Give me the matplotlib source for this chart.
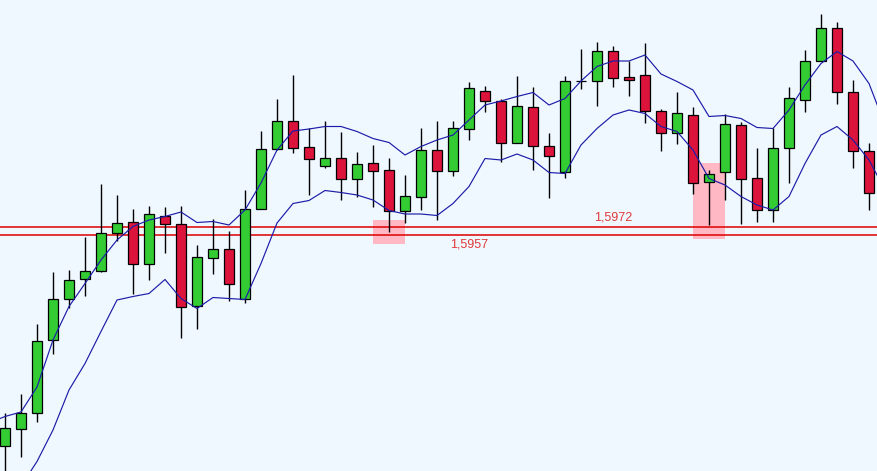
import matplotlib
matplotlib.use("Agg")
import matplotlib.pyplot as plt
from matplotlib.patches import Rectangle
import numpy as np

# ---- data (prices) ----
opens = [1.5535, 1.5570, 1.5600, 1.5746, 1.5828, 1.5870, 1.5884, 1.5960, 1.5982, 1.5898,
         1.5994, 1.5978, 1.5816, 1.5912, 1.5928, 1.5830, 1.6010, 1.6130, 1.6185, 1.6132,
         1.6096, 1.6110, 1.6068, 1.6100, 1.6086, 1.6004, 1.6034, 1.6126, 1.6084, 1.6170,
         1.6244, 1.6224, 1.6140, 1.6212, 1.6136, 1.6082, 1.6264, 1.6264, 1.6324, 1.6272,
         1.6276, 1.6204, 1.6160, 1.6198, 1.6062, 1.6082, 1.6178, 1.6070, 1.6006, 1.6132,
         1.6226, 1.6304, 1.6370, 1.6242, 1.6124]
highs = [1.5600, 1.5638, 1.5779, 1.5883, 1.5887, 1.5952, 1.6059, 1.6037, 1.6008, 1.6015,
         1.6012, 1.6015, 1.5936, 1.5988, 1.5965, 1.6047, 1.6164, 1.6229, 1.6277, 1.6170,
         1.6185, 1.6163, 1.6123, 1.6137, 1.6110, 1.6077, 1.6170, 1.6185, 1.6185, 1.6263,
         1.6255, 1.6228, 1.6274, 1.6253, 1.6161, 1.6275, 1.6329, 1.6342, 1.6334, 1.6305,
         1.6340, 1.6208, 1.6242, 1.6212, 1.6086, 1.6198, 1.6182, 1.6130, 1.6170, 1.6252,
         1.6326, 1.6400, 1.6382, 1.6266, 1.6140]
lows = [1.5477, 1.5512, 1.5582, 1.5718, 1.5810, 1.5834, 1.5882, 1.5944, 1.5838, 1.5866,
        1.5920, 1.5750, 1.5768, 1.5878, 1.5824, 1.5820, 1.6010, 1.6126, 1.6120, 1.6036,
        1.6090, 1.6026, 1.6032, 1.6012, 1.5962, 1.5980, 1.6006, 1.5986, 1.6074, 1.6146,
        1.6202, 1.6103, 1.6140, 1.6087, 1.6030, 1.6070, 1.6249, 1.6214, 1.6253, 1.6234,
        1.6180, 1.6124, 1.6138, 1.6038, 1.5976, 1.6026, 1.5978, 1.5982, 1.5982, 1.6060,
        1.6202, 1.6304, 1.6218, 1.6090, 1.6006]
closes = [1.5570, 1.5600, 1.5744, 1.5828, 1.5866, 1.5884, 1.5960, 1.5980, 1.5898, 1.5998,
          1.5978, 1.5814, 1.5912, 1.5928, 1.5858, 1.6010, 1.6130, 1.6185, 1.6132, 1.6108,
          1.6110, 1.6068, 1.6098, 1.6084, 1.6004, 1.6034, 1.6126, 1.6084, 1.6170, 1.6252,
          1.6224, 1.6140, 1.6214, 1.6136, 1.6116, 1.6264, 1.6265, 1.6324, 1.6272, 1.6266,
          1.6204, 1.6160, 1.6200, 1.6060, 1.6078, 1.6178, 1.6070, 1.6006, 1.6130, 1.6232,
          1.6304, 1.6370, 1.6242, 1.6124, 1.6040]

# envelope bands, index -1 .. 55
upper_band = [1.5581, 1.5594, 1.5603, 1.5653, 1.5747, 1.5814, 1.5860, 1.5907, 1.5947, 1.5974,
              1.5987, 1.5994, 1.6003, 1.5982, 1.5984, 1.5977, 1.6007, 1.6061, 1.6127, 1.6165,
              1.6169, 1.6174, 1.6174, 1.6164, 1.6150, 1.6142, 1.6117, 1.6134, 1.6147, 1.6157,
              1.6187, 1.6217, 1.6225, 1.6234, 1.6242, 1.6217, 1.6230, 1.6265, 1.6294, 1.6305,
              1.6305, 1.6317, 1.6279, 1.6264, 1.6247, 1.6194, 1.6196, 1.6190, 1.6172, 1.6170,
              1.6207, 1.6257, 1.6300, 1.6324, 1.6305, 1.6260, 1.6177]
lower_band = [1.5360, 1.5407, 1.5455, 1.5504, 1.5567, 1.5647, 1.5700, 1.5764, 1.5827, 1.5834,
              1.5840, 1.5868, 1.5830, 1.5810, 1.5832, 1.5830, 1.5828, 1.5900, 1.5981, 1.6020,
              1.6026, 1.6046, 1.6042, 1.6037, 1.6027, 1.6006, 1.5999, 1.5999, 1.5996, 1.6020,
              1.6054, 1.6110, 1.6107, 1.6119, 1.6107, 1.6082, 1.6080, 1.6137, 1.6170, 1.6197,
              1.6207, 1.6200, 1.6174, 1.6164, 1.6127, 1.6070, 1.6057, 1.6034, 1.6017, 1.6007,
              1.6034, 1.6100, 1.6157, 1.6174, 1.6147, 1.6107, 1.6047]

levels = [1.5972, 1.5957]
level_labels = ["1,5972", "1,5957"]
level_label_idx = [38, 29]

zone_idx = [24, 44]
zone_top = [1.5987, 1.6101]
zone_bottom = [1.5938, 1.5950]

# ---- figure ----
W, H, DPI = 878, 471, 100
fig = plt.figure(figsize=(W / DPI, H / DPI), dpi=DPI)
bg = "#f0f8ff"
fig.patch.set_facecolor(bg)
ax = fig.add_axes([0, 0, 1, 1])
ax.set_facecolor(bg)
ax.set_axis_off()

n = len(opens)
x = np.arange(n)
xb = np.arange(-1, len(upper_band) - 1)

# zones
for i, t, b in zip(zone_idx, zone_top, zone_bottom):
    ax.add_patch(Rectangle((i - 1.0, b), 2.0, t - b, facecolor="#ffb8c4",
                           edgecolor="none", zorder=1))

# level lines
for lv in levels:
    ax.axhline(lv, color="#dd0000", lw=1.1, zorder=2)

# labels
ax.annotate(level_labels[0], (level_label_idx[0], levels[0]), xytext=(0, 3),
            textcoords="offset points", ha="center", va="bottom",
            color="#e03a3a", fontsize=9, family="Liberation Sans", zorder=5)
ax.annotate(level_labels[1], (level_label_idx[1], levels[1]), xytext=(0, -2.5),
            textcoords="offset points", ha="center", va="top",
            color="#e03a3a", fontsize=9, family="Liberation Sans", zorder=5)

# bands
ax.plot(xb, upper_band, color="#1c1ca8", lw=0.85, zorder=4)
ax.plot(xb, lower_band, color="#1c1ca8", lw=0.85, zorder=4)

# candles
o = np.array(opens); c = np.array(closes)
hi = np.array(highs); lo = np.array(lows)
ax.vlines(x, lo, hi, color="black", lw=1.0, zorder=3)
colors = np.where(c >= o, "#33cc33", "#dc143c")
body_bot = np.minimum(o, c)
body_h = np.abs(c - o)
ax.bar(x, body_h, bottom=body_bot, width=0.66, color=colors,
       edgecolor="black", linewidth=0.9, zorder=3.5)

ax.set_xlim(-5 / 16, (W - 5) / 16)
ax.set_ylim(1.6427 - 0.0002 * H, 1.6427)

fig.savefig("out.png", dpi=DPI, facecolor=bg)
